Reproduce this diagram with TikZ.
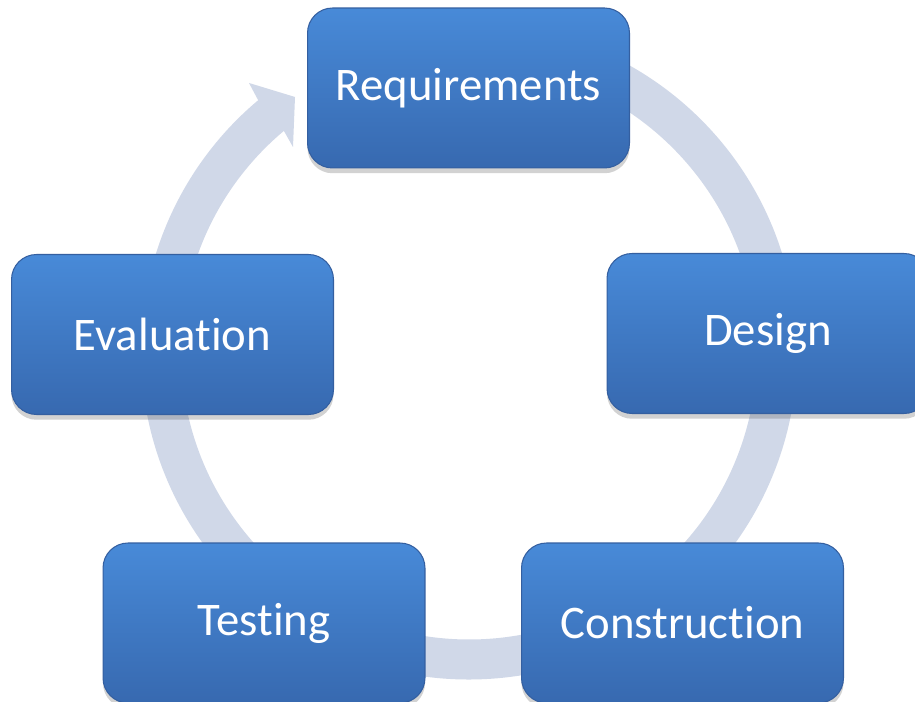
\documentclass[tikz,border=0pt]{standalone}
\usepackage{fontspec}
\setmainfont{Carlito}[Ligatures=NoCommon]
\usepackage{tikz}
\usetikzlibrary{calc,shadows}
\definecolor{ringgray}{RGB}{208,216,232}
\definecolor{boxtop}{RGB}{72,138,216}
\definecolor{boxbot}{RGB}{55,105,176}
\definecolor{boxline}{RGB}{52,95,160}

\begin{document}
\begin{tikzpicture}[x=0.02cm,y=0.02cm,
    phase/.style={rectangle,rounded corners=0.5cm,minimum width=6.44cm,minimum height=3.2cm,
      top color=boxtop,bottom color=boxbot,draw=boxline,line width=0.6pt,text=white,
      font=\fontsize{26.6}{32}\selectfont,
      drop shadow={shadow xshift=0pt,shadow yshift=-3pt,opacity=0.25,fill=black!70}}]
    \clip (0,0) rectangle (915,702);
    \fill[white] (0,0) rectangle (915,702);
    \coordinate (ctr) at (469,350.5);

    % ring with arrow head
    \fill[ringgray] (ctr) ++(95:328) arc[start angle=95,end angle=-230,radius=328]
        -- (249,619) -- (295,605) -- (293,555) -- ($(ctr)+(-230:288)$)
        arc[start angle=-230,end angle=95,radius=288] -- cycle;

    \node[phase] (req) at (468.5,614) {Requirements};
    \node[phase] (des) at (768,368.5) {Design};
    \node[phase] (con) at (682.5,79) {Construction};
    \node[phase] (tes) at (264,79) {Testing};
    \node[phase] (eva) at (172.5,367.5) {Evaluation};

\end{tikzpicture}
\end{document}
